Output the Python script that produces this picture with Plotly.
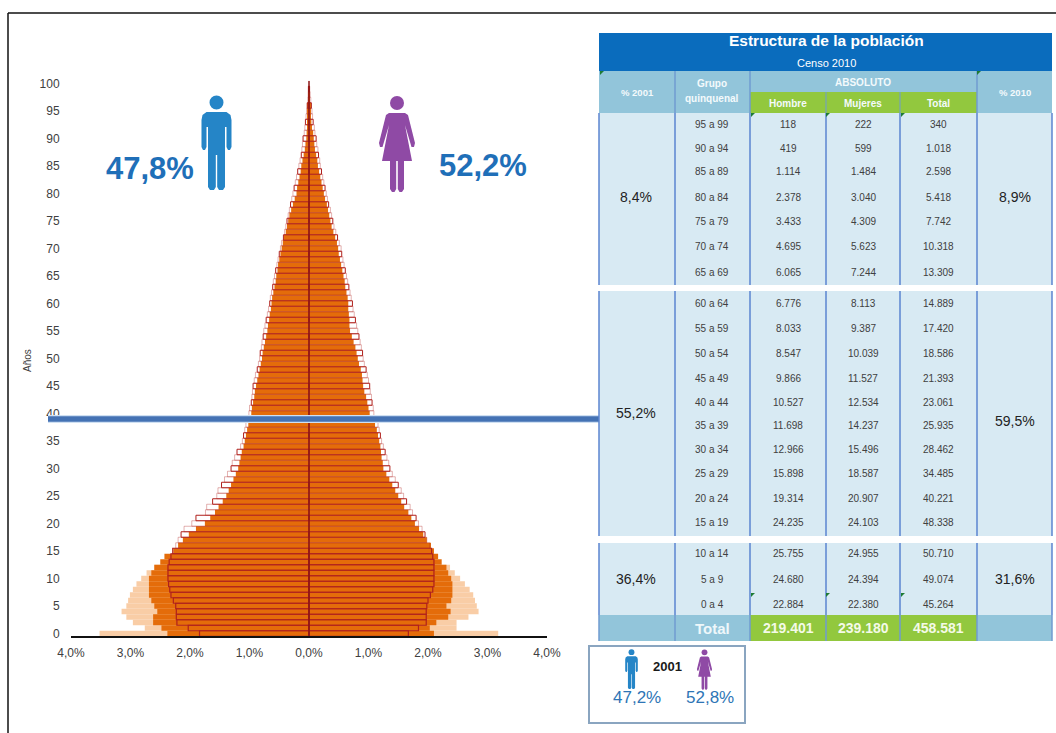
import plotly.graph_objects as go

W, H = 1056, 733

# Share of population by single year of age, in percent of the total
ages = list(range(100))
men_2010 = [1.84,2.03,2.22,2.23,2.23,2.24,2.28,2.32,2.34,2.36,2.37,2.37,2.37,2.35,2.32,2.29,2.24,2.20,2.15,2.10,
            1.97,1.90,1.74,1.72,1.62,1.55,1.53,1.47,1.42,1.37,1.31,1.29,1.25,1.21,1.15,1.12,1.10,1.08,1.06,1.04,
            1.01,1.00,.97,.96,.95,.94,.92,.90,.87,.85,.83,.82,.80,.79,.77,.76,.74,.72,.70,.68,
            .66,.65,.63,.61,.60,.58,.56,.54,.52,.50,.48,.46,.43,.41,.39,.37,.35,.33,.31,.29,
            .27,.25,.23,.21,.19,.17,.15,.13,.12,.11,.10,.08,.07,.06,.05,.04,.03,.02,.015,.01]
women_2010 = [1.67,1.84,1.97,1.97,1.97,1.98,2.00,2.04,2.08,2.10,2.10,2.10,2.10,2.10,2.08,2.06,2.03,1.98,1.95,1.90,
              1.84,1.80,1.74,1.70,1.64,1.59,1.55,1.50,1.45,1.40,1.36,1.34,1.31,1.28,1.25,1.22,1.20,1.18,1.16,1.12,
              1.09,1.08,1.06,1.05,1.03,1.02,1.00,.98,.96,.93,.91,.90,.88,.86,.84,.82,.80,.78,.76,.74,
              .73,.71,.69,.67,.65,.63,.61,.59,.57,.55,.54,.51,.48,.45,.42,.40,.38,.36,.33,.31,
              .29,.27,.25,.23,.21,.19,.18,.16,.15,.13,.12,.10,.09,.07,.06,.05,.04,.03,.02,.01]
men_2001 = [2.38,2.48,2.62,2.62,2.55,2.60,2.65,2.69,2.69,2.69,2.69,2.65,2.60,2.50,2.43,2.28,2.20,2.12,2.02,1.90,
            1.75,1.66,1.58,1.52,1.45,1.39,1.35,1.31,1.27,1.23,1.19,1.17,1.15,1.13,1.10,1.08,1.06,1.04,1.02,1.00,
            .97,.96,.94,.92,.91,.89,.87,.85,.83,.81,.79,.78,.76,.74,.72,.70,.69,.67,.66,.64,
            .63,.62,.60,.58,.56,.55,.53,.52,.50,.48,.46,.44,.42,.39,.37,.35,.33,.30,.27,.24,
            .21,.20,.18,.16,.14,.13,.11,.09,.07,.06,.045,.04,.03,.03,.02,.02,.02,.01,.01,.01]
women_2001 = [2.10,2.03,2.14,2.34,2.38,2.31,2.39,2.41,2.41,2.41,2.39,2.34,2.31,2.23,2.17,2.10,2.05,1.98,1.92,1.85,
              1.78,1.72,1.67,1.60,1.55,1.50,1.45,1.40,1.35,1.30,1.25,1.24,1.22,1.21,1.20,1.18,1.16,1.14,1.11,1.06,
              1.02,1.00,.98,.96,.93,.91,.90,.89,.87,.84,.82,.80,.78,.75,.72,.69,.68,.68,.67,.66,
              .66,.65,.63,.61,.60,.58,.56,.54,.52,.50,.49,.47,.44,.41,.38,.36,.34,.32,.30,.27,
              .25,.23,.21,.19,.17,.15,.14,.12,.10,.09,.08,.07,.05,.04,.03,.02,.02,.01,.01,.01]
ages_1990 = list(range(13))
men_1990 = [3.52,2.76,2.96,3.07,3.15,3.07,3.04,3.01,2.96,2.90,2.82,2.73,2.60]
women_1990 = [3.18,2.48,2.48,2.68,2.85,2.82,2.79,2.76,2.70,2.62,2.54,2.45,2.37]

x_ticks = [-4, -3, -2, -1, 0, 1, 2, 3, 4]
x_labels = ["4,0%", "3,0%", "2,0%", "1,0%", "0,0%", "1,0%", "2,0%", "3,0%", "4,0%"]
y_ticks = list(range(0, 101, 5))

# Table contents, one list per column
group_labels = ["95 a 99","90 a 94","85 a 89","80 a 84","75 a 79","70 a 74","65 a 69",
                "60 a 64","55 a 59","50 a 54","45 a 49","40 a 44","35 a 39","30 a 34","25 a 29","20 a 24","15 a 19",
                "10 a 14","5 a 9","0 a 4"]
hombre = ["118","419","1.114","2.378","3.433","4.695","6.065",
          "6.776","8.033","8.547","9.866","10.527","11.698","12.966","15.898","19.314","24.235",
          "25.755","24.680","22.884"]
mujeres = ["222","599","1.484","3.040","4.309","5.623","7.244",
           "8.113","9.387","10.039","11.527","12.534","14.237","15.496","18.587","20.907","24.103",
           "24.955","24.394","22.380"]
total = ["340","1.018","2.598","5.418","7.742","10.318","13.309",
         "14.889","17.420","18.586","21.393","23.061","25.935","28.462","34.485","40.221","48.338",
         "50.710","49.074","45.264"]
row_y = [124,148,172,197,222,247,272,303,328,353,378,402,425,449,473,498,522,553,579,604]
pct_2001 = ["8,4%", "55,2%", "36,4%"]
pct_2010 = ["8,9%", "59,5%", "31,6%"]
totals_row = ["219.401", "239.180", "458.581"]

SANS = "Liberation Sans, sans-serif"
GREY = "#404040"
BLUE_TEXT = "#1f6fb8"


def px(x):
    return x / W


def py(y):
    return 1 - y / H


shapes, notes = [], []


def text(x, y, s, size=10, color=GREY, family=SANS, bold=False, angle=0):
    notes.append(dict(x=px(x), y=py(y), xref="paper", yref="paper", showarrow=False,
                      text=f"<b>{s}</b>" if bold else s, textangle=angle,
                      font=dict(size=size, color=color, family=family),
                      xanchor="center", yanchor="middle"))


def rect(x0, y0, x1, y1, fill, line=None, lw=0, layer="above"):
    shapes.append(dict(type="rect", xref="paper", yref="paper", layer=layer,
                       x0=px(x0), x1=px(x1), y0=py(y0), y1=py(y1), fillcolor=fill,
                       line=dict(color=line or fill, width=lw)))


def vline(x, y0, y1, color="#5b85d0", lw=1.5):
    shapes.append(dict(type="line", xref="paper", yref="paper", layer="above",
                       x0=px(x), x1=px(x), y0=py(y0), y1=py(y1), line=dict(color=color, width=lw)))


def outline(points, color):
    d = "M" + " L".join(f"{px(a):.5f},{py(b):.5f}" for a, b in points) + " Z"
    shapes.append(dict(type="path", xref="paper", yref="paper", layer="above", path=d,
                       fillcolor=color, line=dict(width=0)))


def head(cx, cy, r, color):
    shapes.append(dict(type="circle", xref="paper", yref="paper", layer="above",
                       x0=px(cx - r), x1=px(cx + r), y0=py(cy - r), y1=py(cy + r),
                       fillcolor=color, line=dict(width=0)))


def man(cx, top, s, color="#2585c7"):
    head(cx, top + 7.5 * s, 7 * s, color)
    half = [(1, 17), (10, 17), (14, 20), (15, 25), (15, 52), (13.5, 55), (11.5, 55), (10, 52), (10, 32),
            (8.5, 32), (8.5, 92), (6.5, 95), (2.5, 95), (0.7, 92), (0.7, 60)]
    pts = [(cx + a * s, top + b * s) for a, b in half]
    pts += [(cx - a * s, top + b * s) for a, b in reversed(half)]
    outline(pts, color)


def woman(cx, top, s, color="#8f4aa5"):
    head(cx, top + 8 * s, 7 * s, color)
    half = [(1, 18), (8, 18), (11, 20), (18, 48), (17, 52), (14.5, 52), (8, 30), (15, 66), (7, 66),
            (7, 94), (5, 97), (2.5, 97), (0.8, 94), (0.8, 66)]
    pts = [(cx + a * s, top + b * s) for a, b in half]
    pts += [(cx - a * s, top + b * s) for a, b in reversed(half)]
    outline(pts, color)


def flag(x, y):
    outline([(x, y), (x + 4, y), (x, y + 4)], "#1e7b34")


fig = go.Figure()

# Pyramid: oldest census at the back, the 2010 census as outlined bars on top
for values, sign, yy, fill in [(men_1990, -1, ages_1990, "#f9cda6"), (women_1990, 1, ages_1990, "#f9cda6"),
                               (men_2001, -1, ages, "#e46c0a"), (women_2001, 1, ages, "#e46c0a")]:
    fig.add_trace(go.Bar(x=[sign * v for v in values], y=yy, orientation="h", width=1,
                         marker=dict(color=fill, line=dict(width=0)), showlegend=False))
# Rules are heavy through the child ages and lighter and uneven above them
edge_widths = [1.2 if a < 16 else (1.0 if a % 3 == 0 else 0.35) for a in ages]
for values, sign in [(men_2010, -1), (women_2010, 1)]:
    fig.add_trace(go.Bar(x=[sign * v for v in values], y=ages, orientation="h", width=1,
                         marker=dict(color="rgba(0,0,0,0)", line=dict(color="#b0201c", width=edge_widths)),
                         showlegend=False))

# Centre spine and the band that runs across to the table
shapes.append(dict(type="line", xref="x", yref="y", x0=0, x1=0, y0=-0.5, y1=100.5,
                   line=dict(color="#8c1414", width=1.5)))
shapes.append(dict(type="line", xref="paper", yref="y", x0=px(48), x1=px(600), y0=39, y1=39,
                   line=dict(color="#cfe0f2", width=8)))
shapes.append(dict(type="line", xref="paper", yref="y", x0=px(48), x1=px(600), y0=39, y1=39,
                   line=dict(color="#4472b4", width=5.5)))

# Page frame
shapes.append(dict(type="line", xref="paper", yref="paper", x0=px(8), x1=1, y0=py(13), y1=py(13),
                   line=dict(color="#111111", width=1.5)))
shapes.append(dict(type="line", xref="paper", yref="paper", x0=px(8), x1=px(8), y0=py(13), y1=0,
                   line=dict(color="#111111", width=1.5)))

# Headline shares with their figures
man(216.5, 95, 1.0)
woman(397, 95, 1.0)
text(150, 169, "47,8%", 31, BLUE_TEXT, SANS, True)
text(483, 165, "52,2%", 31, BLUE_TEXT, SANS, True)
text(27, 361, "Años", 10, GREY, SANS, angle=-90)

# Table: bands
columns = [599, 675, 750, 826, 900, 977, 1052]
rect(599, 33, 1052, 71, "#0a6cbd")
rect(599, 71, 1052, 113, "#92c5da")
rect(750, 92, 977, 113, "#92c83e")
for top, bottom in [(113, 285), (291, 536), (543, 615)]:
    rect(599, top, 1052, bottom, "#d8eaf3")
    for c in columns:
        vline(c, top, bottom)
rect(599, 615, 1052, 641, "#92c5da")
rect(750, 615, 977, 641, "#92c83e")
for c in [675, 750, 977]:
    vline(c, 71, 113, "#6f9bd0")
for c in [826, 900]:
    vline(c, 92, 113, "#6f9bd0", 1)
for c in columns:
    vline(c, 615, 641, "#6f9bd0")

# Table: headers
text(826, 41, "Estructura de la población", 15.5, "#ffffff", SANS, True)
text(826, 63, "Censo 2010", 11, "#ffffff")
text(637, 92, "% 2001", 9.5, "#f4fafc", bold=True)
text(712, 83, "Grupo", 10, "#f4fafc", bold=True)
text(712, 99, "quinquenal", 10, "#f4fafc", bold=True)
text(863, 82, "ABSOLUTO", 10, "#f4fafc", bold=True)
text(788, 103, "Hombre", 10, "#f4fafc", bold=True)
text(863, 103, "Mujeres", 10, "#f4fafc", bold=True)
text(938, 103, "Total", 10, "#f4fafc", bold=True)
text(1015, 92, "% 2010", 9.5, "#f4fafc", bold=True)

# Table: body
for y, g, h, m, t in zip(row_y, group_labels, hombre, mujeres, total):
    text(712, y, g, 10)
    text(788, y, h, 10)
    text(863, y, m, 10)
    text(938, y, t, 10)
for a, b, y in [(pct_2001[0], pct_2010[0], 197), (pct_2001[1], pct_2010[1], 413), (pct_2001[2], pct_2010[2], 579)]:
    text(636, y, a, 14, "#222222", SANS)
    text(1015, y if y != 413 else 421, b, 14, "#222222", SANS)

# Table: totals row
text(712, 628, "Total", 15, "#eef7fa", SANS, True)
for x, s in zip([788, 863, 938], totals_row):
    text(x, 628, s, 14, "#f4fae8", SANS, True)

# Table: small corner markers
for x in [600, 977]:
    flag(x, 71)
for x in [751, 826, 901]:
    flag(x, 113)
    flag(x, 593)

# Inset with the 2001 shares
rect(589, 646, 745, 723, "#ffffff", "#8aa5c0", 2)
man(631.5, 649, 0.42)
woman(704.5, 649, 0.42)
text(667, 666, "2001", 13, "#1a1a1a", SANS, True)
text(637, 697, "47,2%", 17, "#2e75b6", SANS)
text(710, 697, "52,8%", 17, "#2e75b6", SANS)

fig.update_layout(
    width=W, height=H, autosize=False, barmode="overlay",
    margin=dict(l=0, r=0, t=0, b=0, pad=0), paper_bgcolor="#ffffff", plot_bgcolor="#ffffff",
    shapes=shapes, annotations=notes, showlegend=False,
    xaxis=dict(domain=[px(71), px(547)], range=[-4, 4], tickvals=x_ticks, ticktext=x_labels,
               showgrid=False, zeroline=False, showline=True, linecolor="#111111", linewidth=1.5,
               ticks="outside", ticklen=5, tickcolor="rgba(0,0,0,0)", automargin=False,
               tickfont=dict(size=12, color=GREY, family=SANS), anchor="y"),
    yaxis=dict(domain=[py(636.25), py(80.75)], range=[-0.5, 100.5], tickvals=y_ticks,
               showgrid=False, zeroline=False, showline=False,
               ticks="outside", ticklen=8, tickcolor="rgba(0,0,0,0)", automargin=False,
               tickfont=dict(size=12, color=GREY, family=SANS), anchor="x"),
)

fig.write_html("out.html")
